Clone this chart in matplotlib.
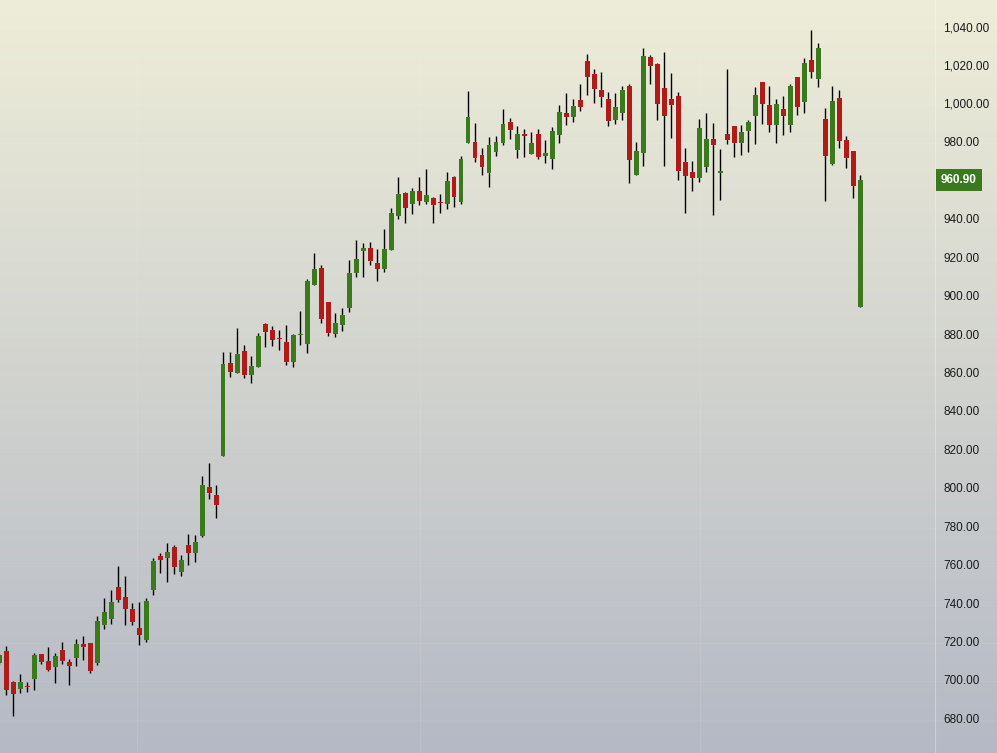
import matplotlib
matplotlib.use("Agg")
import matplotlib.pyplot as plt
import matplotlib.transforms as mtransforms
import numpy as np

# OHLC, one row per session (oldest first)
opens = [709.8, 715.9, 699.7, 696.3, 697.5, 701.5, 714.3, 710.8, 707.7, 716.4,
         710.1, 712.4, 719.5, 720.2, 709.8, 729.4, 732.5, 749.3, 744.1, 737.9,
         727.8, 721.6, 747.7, 765.5, 764.5, 770.2, 757.0, 771.1, 766.6, 775.9,
         801.1, 797.1, 817.5, 865.7, 860.7, 871.9, 859.6, 863.8, 886.0, 882.9,
         878.4, 876.6, 866.4, 880.4, 875.6, 906.3, 915.3, 897.4, 880.8, 885.5,
         894.1, 912.4, 924.1, 925.3, 917.7, 914.6, 924.5, 942.2, 953.9, 948.6,
         955.2, 949.6, 951.5, 949.2, 948.4, 962.6, 949.6, 980.3, 980.7, 973.9,
         964.7, 975.6, 980.3, 991.3, 976.5, 984.9, 974.4, 984.9, 973.4, 971.9,
         984.4, 996.0, 993.9, 1002.5, 1022.8, 1016.1, 1007.7, 1003.1, 992.1, 995.6,
         1009.8, 963.5, 975.2, 1025.1, 1021.1, 1008.6, 1003.1, 1004.6, 970.3, 965.1,
         962.0, 967.9, 982.3, 964.8, 984.9, 989.0, 980.3, 986.6, 994.2, 1011.9,
         999.9, 989.5, 997.9, 989.5, 1014.7, 1001.7, 1023.4, 1013.5, 992.8, 969.3,
         1003.8, 981.7, 976.0, 894.7]
highs = [714.5, 718.5, 700.0, 703.9, 699.7, 715.0, 714.3, 717.8, 714.6, 720.5,
         711.9, 721.9, 723.7, 720.2, 734.1, 743.4, 747.6, 760.0, 754.9, 740.7,
         741.5, 743.3, 764.1, 766.7, 771.9, 771.1, 765.9, 776.8, 776.1, 807.0,
         813.9, 802.3, 871.4, 871.4, 883.7, 874.9, 869.3, 881.1, 886.3, 885.0,
         882.9, 885.3, 880.8, 892.8, 909.2, 922.8, 916.7, 897.4, 891.6, 894.1,
         919.3, 929.7, 927.9, 928.6, 924.8, 935.2, 946.1, 962.6, 954.8, 956.6,
         962.6, 966.4, 952.2, 953.6, 965.1, 963.0, 973.3, 1007.2, 990.8, 977.4,
         983.1, 983.8, 997.7, 993.0, 989.0, 987.3, 986.0, 987.3, 981.7, 988.7,
         1000.0, 1006.4, 1002.9, 1010.9, 1026.5, 1018.5, 1017.1, 1006.5, 1006.0, 1009.8,
         1010.9, 980.8, 1029.4, 1026.1, 1021.6, 1027.5, 1016.8, 1006.9, 977.6, 970.8,
         992.8, 995.8, 990.4, 976.9, 1018.7, 989.0, 989.4, 992.1, 1009.1, 1011.9,
         1009.8, 1003.1, 1004.6, 1010.9, 1014.7, 1024.2, 1039.0, 1032.4, 998.4, 1009.8,
         1007.7, 983.8, 976.0, 963.5]
lows = [709.0, 693.0, 682.2, 694.2, 694.7, 695.6, 709.1, 705.6, 699.4, 709.1,
        698.2, 708.1, 711.2, 704.2, 708.6, 727.5, 729.9, 741.6, 729.4, 729.2,
        719.0, 720.7, 745.1, 756.7, 752.0, 756.0, 754.9, 760.7, 762.2, 775.4,
        795.2, 785.3, 817.5, 858.6, 860.7, 858.1, 855.5, 863.8, 874.2, 874.6,
        872.5, 864.7, 863.8, 875.1, 871.1, 906.3, 886.7, 879.8, 879.1, 882.5,
        892.4, 910.3, 910.6, 916.5, 908.5, 913.2, 924.5, 940.8, 938.7, 943.2,
        947.9, 948.4, 938.4, 943.9, 945.8, 947.0, 948.3, 980.3, 970.5, 963.5,
        957.5, 973.6, 979.1, 982.1, 972.2, 973.0, 974.4, 971.7, 969.9, 966.6,
        980.3, 989.5, 991.3, 997.0, 1005.1, 1001.1, 999.1, 989.0, 990.0, 992.1,
        959.5, 963.5, 968.2, 1010.9, 992.1, 968.2, 982.6, 960.9, 943.9, 955.2,
        959.9, 965.3, 942.7, 950.5, 979.7, 973.1, 973.9, 975.7, 979.7, 990.1,
        986.1, 980.3, 984.3, 986.1, 994.7, 996.0, 1014.2, 1009.5, 950.0, 968.7,
        977.7, 967.3, 951.4, 894.7]
closes = [713.8, 695.6, 693.5, 699.7, 697.0, 713.8, 710.1, 706.0, 713.3, 710.8,
          708.1, 719.5, 717.9, 705.6, 731.6, 736.2, 741.4, 742.4, 737.9, 731.0,
          724.2, 742.0, 762.9, 763.3, 767.3, 759.8, 763.3, 766.6, 772.5, 802.3,
          798.3, 791.9, 865.2, 860.9, 870.4, 859.6, 864.1, 879.8, 881.8, 877.7,
          878.0, 866.4, 880.3, 880.8, 908.5, 914.4, 888.4, 881.5, 886.7, 890.7,
          912.7, 919.7, 925.7, 918.9, 914.6, 925.0, 943.9, 953.6, 946.5, 955.2,
          950.0, 953.1, 947.9, 949.0, 960.5, 952.2, 971.8, 993.9, 972.5, 967.5,
          979.0, 980.7, 990.1, 986.9, 984.9, 983.8, 980.0, 973.1, 975.1, 986.6,
          996.5, 993.9, 999.4, 999.1, 1014.7, 1008.4, 1004.3, 991.8, 999.1, 1007.7,
          971.5, 976.1, 1025.6, 1020.2, 1000.5, 994.2, 999.9, 965.8, 963.0, 962.0,
          988.2, 982.4, 979.1, 965.0, 981.7, 980.3, 985.7, 991.1, 1005.2, 1000.5,
          989.5, 1000.5, 994.2, 1010.0, 999.1, 1022.0, 1017.0, 1029.8, 973.4, 1002.2,
          981.4, 972.2, 958.0, 960.9]

price_ticks = [680, 700, 720, 740, 760, 780, 800, 820, 840, 860, 880, 900,
               920, 940, 960, 980, 1000, 1020, 1040]
last_price = 960.90

UP = "#3b7a1c"
DOWN = "#b01a17"

W, H = 997, 753
fig = plt.figure(figsize=(W / 100, H / 100), dpi=100)
ax = fig.add_axes([0, 0, 1, 1])

# pixel layout: candle i centred at x = -1 + 7 i ; 1040 at y=28, 1.922 px per unit
px_per_unit = 1.922
x_left = 1 / 7
x_right = (W + 1) / 7
y_top = 1040 + 28 / px_per_unit
y_bot = 1040 - (H - 28) / px_per_unit
ax.set_xlim(x_left, x_right)
ax.set_ylim(y_bot, y_top)

# vertical gradient background
top_col = np.array([0xee, 0xed, 0xd9]) / 255
bot_col = np.array([0xb5, 0xb9, 0xc5]) / 255
t = np.linspace(0, 1, 256)[:, None]
grad = top_col[None, :] * (1 - t) + bot_col[None, :] * t
ax.imshow(grad[:, None, :], extent=[x_left, x_right, y_bot, y_top],
          aspect="auto", origin="upper", zorder=0)

# faint grid
for p in price_ticks:
    ax.axhline(p, color="white", lw=0.6, alpha=0.06, zorder=1)
for px in (137, 420, 700):
    ax.axvline((px + 1) / 7, color="white", lw=0.6, alpha=0.1, zorder=1)
ax.axvline((935 + 1) / 7, color="white", lw=0.8, alpha=0.3, zorder=1)

# candles
idx = np.arange(len(opens))
o = np.array(opens)
h = np.array(highs)
l = np.array(lows)
c = np.array(closes)
up = c >= o
cols = np.where(up, UP, DOWN)
ax.vlines(idx, l, h, color="black", lw=1.0, zorder=2)
body_lo = np.minimum(o, c)
body_h = np.maximum(np.abs(c - o), 0.6)
ax.bar(idx, body_h, bottom=body_lo, width=5 / 7, color=cols,
       edgecolor="none", linewidth=0, zorder=3)

# price axis labels (the one under the last-price badge is hidden)
trans = mtransforms.blended_transform_factory(ax.transAxes, ax.transData)
for p in price_ticks:
    if abs(p - last_price) < 8:
        continue
    ax.text(943 / W, p, f"{p:,.2f}", transform=trans, ha="left", va="center",
            fontsize=8.5, family="Liberation Sans", color="#1a1a1a", zorder=5)

# last price badge
ax.text(959 / W, last_price, f"{last_price:,.2f}", transform=trans,
        ha="center", va="center", fontsize=8.5, family="Liberation Sans",
        fontweight="bold", color="white", zorder=6,
        bbox=dict(boxstyle="square,pad=0.45", facecolor=UP, edgecolor="none"))

ax.set_axis_off()
fig.savefig("out.png", dpi=100)
